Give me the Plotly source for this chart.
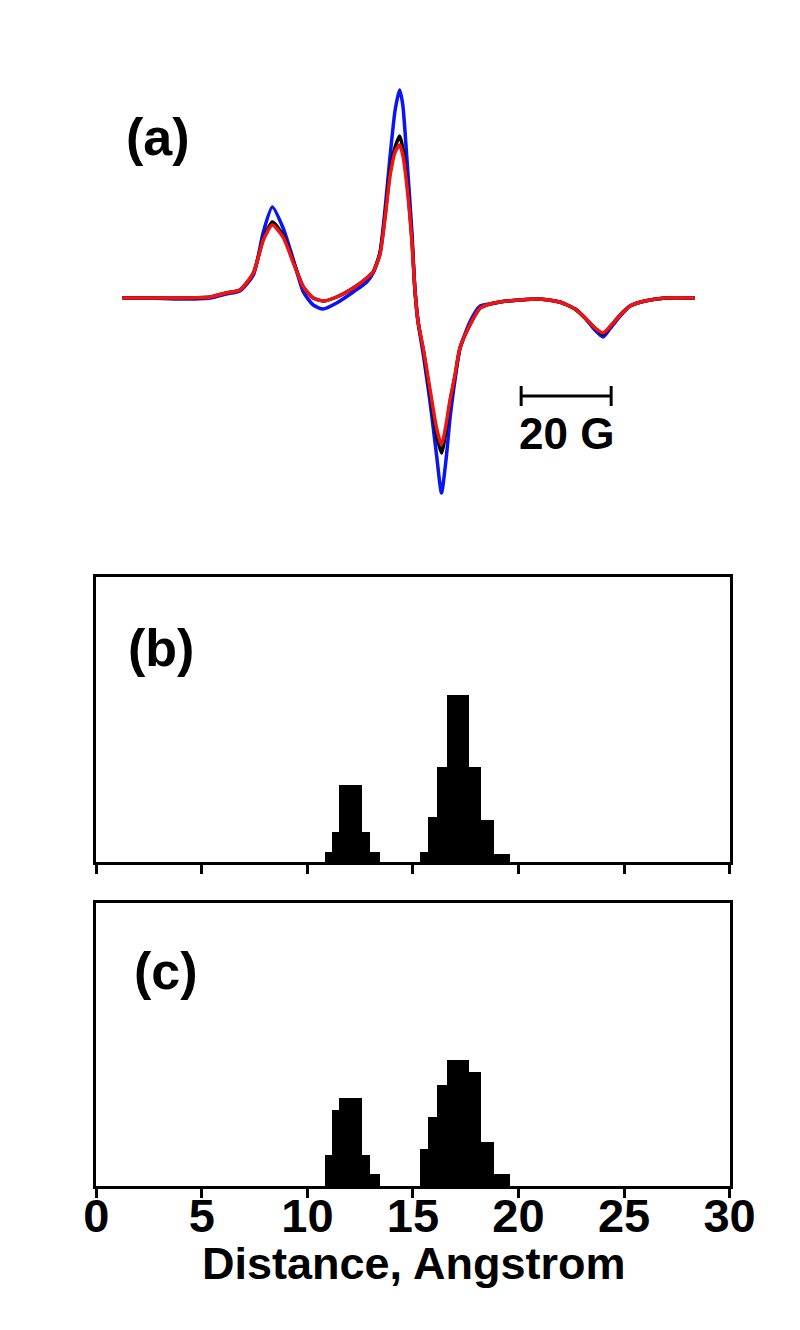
import plotly.graph_objects as go

# ---------------- Panel (a): EPR spectra (relative field in Gauss, arb. intensity) ----------------
field_G = [0, 6.2, 12.9, 19.6, 23.1, 26.2, 29.2, 31.4, 33.4, 35.8, 38.1, 40.3, 42.5, 44.7, 47.7,
           51.4, 54.4, 55.8, 57.3, 58.4, 59.6, 60.7, 61.7, 62.4, 63.3, 64.4, 65.1, 65.8, 67.0,
           68.4, 69.9, 71.0, 72.0, 72.9, 74.0, 75.1, 77.3, 79.6, 81.8, 84.0, 88.4, 92.9, 97.3,
           100.7, 102.9, 105.1, 106.9, 108.4, 110.7, 112.9, 116.2, 120.7, 127.3]

spec_red = [0, 0, 0, 0.1, 0.5, 0.8, 2.5, 5.8, 7.3, 6.1, 3.5, 1.1, 0.0, -0.3, 0.1,
            1.0, 2.0, 2.6, 4.3, 7.8, 12.3, 14.6, 15.3, 14.3, 11.3, 5.8, 0.8, -2.4, -5.2,
            -9.0, -13.0, -14.7, -12.7, -10.2, -7.7, -5.0, -2.7, -1.0, -0.6, -0.4, -0.2, -0.1, -0.4,
            -1.1, -2.0, -3.0, -3.5, -2.9, -1.7, -0.8, -0.3, 0, 0]

spec_black = [0, 0, 0, 0.1, 0.5, 0.8, 2.5, 5.9, 7.6, 6.3, 3.6, 1.1, 0.0, -0.3, 0.1,
              1.0, 2.0, 2.6, 4.4, 8.0, 12.8, 15.1, 16.2, 15.0, 11.8, 6.0, 0.8, -2.4, -5.3,
              -9.4, -13.7, -15.5, -13.2, -10.4, -7.8, -5.0, -2.7, -1.0, -0.6, -0.4, -0.2, -0.1, -0.4,
              -1.1, -2.0, -3.0, -3.6, -2.9, -1.7, -0.8, -0.3, 0, 0]

spec_blue = [0, 0, -0.1, 0, 0.4, 0.7, 2.3, 6.6, 9.1, 7.0, 3.8, 0.6, -0.7, -1.1, -0.5,
             0.6, 1.6, 2.5, 4.5, 8.6, 14.3, 18.8, 20.8, 19.3, 14.0, 6.8, 0.8, -2.4, -5.8,
             -10.2, -15.7, -19.5, -16.2, -12.0, -8.2, -5.1, -2.4, -0.8, -0.6, -0.4, -0.2, -0.1, -0.4,
             -1.1, -2.0, -3.2, -3.9, -3.1, -1.8, -0.8, -0.3, 0, 0]

scalebar_start_G = 88.7
scalebar_len_G = 20
scalebar_level = -9.8

# ---------------- Panels (b), (c): distance distributions ----------------
bin_edges_peak1 = [10.84, 11.16, 11.50, 12.58, 12.97, 13.44]
bin_edges_peak2 = [15.34, 15.71, 16.15, 16.65, 17.68, 18.23, 18.86, 19.60]

prob_b_peak1 = [0.10, 0.30, 0.77, 0.30, 0.10]
prob_b_peak2 = [0.10, 0.45, 0.95, 1.67, 0.95, 0.42, 0.08]
prob_c_peak1 = [0.31, 0.76, 0.88, 0.31, 0.12]
prob_c_peak2 = [0.37, 0.69, 1.01, 1.26, 1.14, 0.44, 0.12]

dist_ticks = [0, 5, 10, 15, 20, 25, 30]

FONT = "Liberation Sans, Arial, sans-serif"
W, H = 800, 1330
OFF = 8  # page body offset


def py(p):
    return 1 - (p - OFF) / H


def px(p):
    return (p - OFF) / W


def bins(edges):
    centers = [(edges[i] + edges[i + 1]) / 2 for i in range(len(edges) - 1)]
    widths = [edges[i + 1] - edges[i] for i in range(len(edges) - 1)]
    return centers, widths


fig = go.Figure()

# spectra
for ys, col in [(spec_blue, "#0a14f5"), (spec_black, "#000000"), (spec_red, "#f01414")]:
    fig.add_trace(go.Scatter(x=field_G, y=ys, mode="lines", xaxis="x", yaxis="y",
                             line=dict(color=col, width=3.5, shape="spline", smoothing=0.6),
                             showlegend=False, hoverinfo="skip"))

# histograms
for heights1, heights2, xa, ya in [(prob_b_peak1, prob_b_peak2, "x2", "y2"),
                                   (prob_c_peak1, prob_c_peak2, "x3", "y3")]:
    for edges, h in [(bin_edges_peak1, heights1), (bin_edges_peak2, heights2)]:
        c, w = bins(edges)
        fig.add_trace(go.Bar(x=c, y=h, width=w, xaxis=xa, yaxis=ya,
                             marker=dict(color="black", line=dict(width=0)),
                             showlegend=False, hoverinfo="skip"))

xdom = [px(96.3), px(729.6)]
ax_common = dict(showline=True, linecolor="black", linewidth=3, mirror=True, showgrid=False,
                 zeroline=False, automargin=False)

fig.update_layout(
    width=W, height=H,
    margin=dict(l=0, r=0, t=0, b=0, pad=0, autoexpand=False),
    paper_bgcolor="white", plot_bgcolor="rgba(0,0,0,0)",
    font=dict(family=FONT, color="black"),
    showlegend=False,
    bargap=0, barmode="overlay",
    xaxis=dict(domain=[0, 1], range=[(OFF - 122) / 4.5, (800 + OFF - 122) / 4.5], visible=False,
               anchor="y", automargin=False),
    yaxis=dict(domain=[py(520), py(60)], range=[(298 - 520) / 10, (298 - 60) / 10], visible=False,
               anchor="x", automargin=False),
    xaxis2=dict(domain=xdom, range=[0, 30], anchor="y2", ticks="outside", ticklen=9, tickwidth=3,
                tickcolor="black", tickvals=dist_ticks, showticklabels=False, **ax_common),
    yaxis2=dict(domain=[py(862), py(577)], range=[0, 2.85], anchor="x2", ticks="",
                showticklabels=False, **ax_common),
    xaxis3=dict(domain=xdom, range=[0, 30], anchor="y3", ticks="outside", ticklen=9, tickwidth=3,
                tickcolor="black", tickvals=dist_ticks, ticktext=[str(t) for t in dist_ticks],
                ticklabelstandoff=-22,
                tickfont=dict(family=FONT, size=47, color="black", weight="bold"), **ax_common),
    yaxis3=dict(domain=[py(1186), py(903)], range=[0, 2.83], anchor="x3", ticks="",
                showticklabels=False, **ax_common),
)

# scale bar
sb_end = scalebar_start_G + scalebar_len_G
for x0, y0, x1, y1 in [(scalebar_start_G, scalebar_level, sb_end, scalebar_level),
                       (scalebar_start_G, scalebar_level + 1.0, scalebar_start_G, scalebar_level - 1.0),
                       (sb_end, scalebar_level + 1.0, sb_end, scalebar_level - 1.0)]:
    fig.add_shape(type="line", xref="x", yref="y", x0=x0, y0=y0, x1=x1, y1=y1,
                  line=dict(color="black", width=3))

fig.add_annotation(x=scalebar_start_G + scalebar_len_G / 2, y=scalebar_level - 3.7, xref="x", yref="y",
                   text="20 G", showarrow=False, xanchor="center", yanchor="middle",
                   font=dict(family=FONT, size=44, color="black", weight="bold"))

for label, cx, cy in [("(a)", 158, 137), ("(b)", 161, 648), ("(c)", 166, 971)]:
    fig.add_annotation(x=px(cx), y=py(cy), xref="paper", yref="paper", text=label, showarrow=False,
                       xanchor="center", yanchor="middle",
                       font=dict(family=FONT, size=52, color="black", weight="bold"))

fig.add_annotation(x=px(413), y=py(1263), xref="paper", yref="paper", text="Distance, Angstrom",
                   showarrow=False, xanchor="center", yanchor="middle",
                   font=dict(family=FONT, size=45, color="black", weight="bold"))

fig.write_html("out.html")
